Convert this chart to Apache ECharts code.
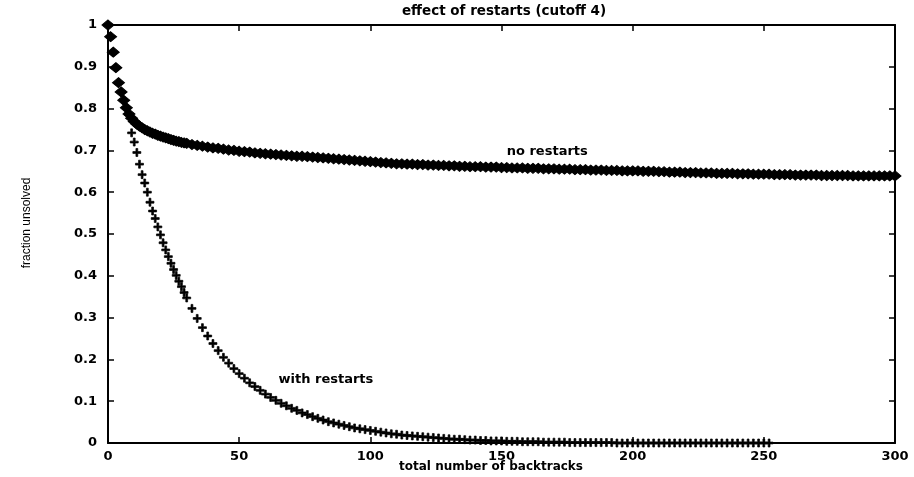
<!DOCTYPE html>
<html><head><meta charset="utf-8">
<script src="https://cdn.jsdelivr.net/npm/echarts@6/dist/echarts.min.js"></script>
<style>html,body{margin:0;padding:0;background:#fff}#c{width:914px;height:477px}</style>
</head><body><div id="c"></div>
<script>
const chartTitle = 'effect of restarts (cutoff 4)';
const xAxisName = 'total number of backtracks';
const yAxisName = 'fraction unsolved';
const xTicks = [0, 50, 100, 150, 200, 250, 300];
const yTicks = [0, 0.1, 0.2, 0.3, 0.4, 0.5, 0.6, 0.7, 0.8, 0.9, 1];

const noRestarts = [
[0,1.000],[1,0.972],[2,0.935],[3,0.898],[4,0.862],[5,0.840],[6,0.820],[7,0.802],[8,0.787],[9,0.777],
[10,0.769],[11,0.763],[12,0.758],[13,0.754],[14,0.750],[15,0.747],[16,0.744],[17,0.741],[18,0.739],[19,0.736],
[20,0.734],[21,0.732],[22,0.730],[23,0.728],[24,0.726],[25,0.724],[26,0.722],[27,0.721],[28,0.719],[29,0.718],
[30,0.717],[32,0.714],[34,0.712],[36,0.710],[38,0.708],[40,0.706],[42,0.705],[44,0.703],[46,0.701],[48,0.700],
[50,0.698],[52,0.697],[54,0.696],[56,0.694],[58,0.693],[60,0.692],[62,0.691],[64,0.690],[66,0.689],[68,0.688],
[70,0.687],[72,0.686],[74,0.686],[76,0.685],[78,0.684],[80,0.683],[82,0.682],[84,0.681],[86,0.680],[88,0.679],
[90,0.678],[92,0.677],[94,0.676],[96,0.675],[98,0.674],[100,0.673],[102,0.672],[104,0.671],[106,0.670],[108,0.669],
[110,0.668],[112,0.668],[114,0.667],[116,0.667],[118,0.666],[120,0.666],[122,0.665],[124,0.665],[126,0.664],[128,0.664],
[130,0.663],[132,0.663],[134,0.662],[136,0.662],[138,0.661],[140,0.661],[142,0.661],[144,0.660],[146,0.660],[148,0.660],
[150,0.659],[152,0.659],[154,0.658],[156,0.658],[158,0.658],[160,0.657],[162,0.657],[164,0.657],[166,0.656],[168,0.656],
[170,0.656],[172,0.655],[174,0.655],[176,0.655],[178,0.654],[180,0.654],[182,0.654],[184,0.653],[186,0.653],[188,0.653],
[190,0.652],[192,0.652],[194,0.652],[196,0.651],[198,0.651],[200,0.651],[202,0.651],[204,0.650],[206,0.650],[208,0.650],
[210,0.649],[212,0.649],[214,0.648],[216,0.648],[218,0.648],[220,0.647],[222,0.647],[224,0.647],[226,0.646],[228,0.646],
[230,0.646],[232,0.645],[234,0.645],[236,0.645],[238,0.645],[240,0.644],[242,0.644],[244,0.644],[246,0.643],[248,0.643],
[250,0.643],[252,0.643],[254,0.642],[256,0.642],[258,0.642],[260,0.642],[262,0.641],[264,0.641],[266,0.641],[268,0.641],
[270,0.641],[272,0.640],[274,0.640],[276,0.640],[278,0.640],[280,0.640],[282,0.640],[284,0.639],[286,0.639],[288,0.639],
[290,0.639],[292,0.639],[294,0.639],[296,0.639],[298,0.639],[300,0.639]
];

const withRestarts = [
[0,1.000],[1,0.972],[2,0.935],[3,0.898],[4,0.862],[5,0.840],[6,0.820],[7,0.802],[8,0.785],[9,0.742],
[10,0.720],[11,0.695],[12,0.667],[13,0.642],[14,0.622],[15,0.600],[16,0.576],[17,0.555],[18,0.537],[19,0.517],
[20,0.498],[21,0.479],[22,0.462],[23,0.446],[24,0.430],[25,0.415],[26,0.401],[27,0.387],[28,0.374],[29,0.360],
[30,0.347],[32,0.322],[34,0.298],[36,0.276],[38,0.256],[40,0.238],[42,0.221],[44,0.205],[46,0.191],[48,0.178],
[50,0.166],[52,0.155],[54,0.144],[56,0.135],[58,0.126],[60,0.117],[62,0.109],[64,0.102],[66,0.095],[68,0.089],
[70,0.083],[72,0.078],[74,0.072],[76,0.068],[78,0.063],[80,0.059],[82,0.055],[84,0.051],[86,0.048],[88,0.045],
[90,0.042],[92,0.039],[94,0.036],[96,0.034],[98,0.032],[100,0.030],[102,0.028],[104,0.026],[106,0.024],[108,0.022],
[110,0.021],[112,0.019],[114,0.018],[116,0.017],[118,0.016],[120,0.015],[122,0.014],[124,0.013],[126,0.012],[128,0.011],
[130,0.010],[132,0.009],[134,0.009],[136,0.008],[138,0.007],[140,0.007],[142,0.006],[144,0.006],[146,0.005],[148,0.005],
[150,0.005],[152,0.004],[154,0.004],[156,0.004],[158,0.003],[160,0.003],[162,0.003],[164,0.003],[166,0.002],[168,0.002],
[170,0.002],[172,0.002],[174,0.002],[176,0.001],[178,0.001],[180,0.001],[182,0.001],[184,0.001],[186,0.001],[188,0.001],
[190,0.001],[192,0.001],[194,0.000],[196,0.000],[198,0.000],[200,0.000],[202,0.000],[204,0.000],[206,0.000],[208,0.000],
[210,0.000],[212,0.000],[214,0.000],[216,0.000],[218,0.000],[220,0.000],[222,0.000],[224,0.000],[226,0.000],[228,0.000],
[230,0.000],[232,0.000],[234,0.000],[236,0.000],[238,0.000],[240,0.000],[242,0.000],[244,0.000],[246,0.000],[248,0.000],
[250,0.000],[252,0.000]
];

const annotations = [
  { text: 'no restarts', x: 152, y: 0.696 },
  { text: 'with restarts', x: 65, y: 0.152 }
];

const BOLD = '"DejaVu Sans", "Liberation Sans", sans-serif';
const chart = echarts.init(document.getElementById('c'), null, { renderer: 'canvas' });

function axisX(pos, showLabel) {
  return {
    type: 'value', position: pos, min: xTicks[0], max: xTicks[xTicks.length - 1],
    interval: xTicks[1] - xTicks[0],
    axisLine: { show: true, onZero: false, lineStyle: { color: '#000', width: 2 } },
    axisTick: { show: true, inside: true, length: 6, lineStyle: { color: '#000', width: 1.5 } },
    axisLabel: { show: showLabel, color: '#000', fontFamily: BOLD, fontWeight: 'bold', fontSize: 13, margin: 7 },
    splitLine: { show: false }
  };
}
function axisY(pos, showLabel) {
  return {
    type: 'value', position: pos, min: yTicks[0], max: yTicks[yTicks.length - 1],
    interval: 0.1,
    axisLine: { show: true, onZero: false, lineStyle: { color: '#000', width: 2 } },
    axisTick: { show: true, inside: true, length: 6, lineStyle: { color: '#000', width: 1.5 } },
    axisLabel: { show: showLabel, color: '#000', fontFamily: BOLD, fontWeight: 'bold', fontSize: 13, margin: 11,
      formatter: v => String(Math.round(v * 10) / 10) },
    splitLine: { show: false }
  };
}

const plusPath = 'path://M0,2.7H2.7V0H4.3V2.7H7V4.3H4.3V7H2.7V4.3H0Z';

chart.setOption({
  animation: false,
  backgroundColor: '#fff',
  grid: { left: 108, right: 19, top: 25, bottom: 34, containLabel: false },
  xAxis: [axisX('bottom', true), axisX('top', false)],
  yAxis: [axisY('left', true), axisY('right', false)],
  series: [
    {
      name: 'no restarts', type: 'scatter', data: noRestarts,
      symbol: 'diamond', symbolSize: [12, 10],
      itemStyle: { color: '#000', borderColor: '#000', borderWidth: 1, opacity: 1 },
      z: 2
    },
    {
      name: 'with restarts', type: 'scatter', data: withRestarts,
      symbol: plusPath, symbolSize: 8,
      itemStyle: { color: '#000', borderColor: '#000', borderWidth: 0.7, opacity: 1 },
      z: 3
    }
  ]
});

const annoGraphics = annotations.map(a => {
  const p = chart.convertToPixel({ xAxisIndex: 0, yAxisIndex: 0 }, [a.x, a.y]);
  return { type: 'text', x: p[0], y: p[1], z: 10,
    style: { text: a.text, fill: '#000', align: 'left', verticalAlign: 'middle',
      font: 'bold 13px "DejaVu Sans", sans-serif' } };
});

chart.setOption({
  graphic: [
    { type: 'text', x: 504, y: 11, style: { text: chartTitle, fill: '#000', align: 'center', verticalAlign: 'middle',
      font: 'bold 13.5px "DejaVu Sans", sans-serif' } },
    { type: 'text', x: 491, y: 467, style: { text: xAxisName, fill: '#000', align: 'center', verticalAlign: 'middle',
      font: 'bold 12px "DejaVu Sans", sans-serif' } },
    { type: 'text', x: 27, y: 223, rotation: Math.PI / 2, style: { text: yAxisName, fill: '#000', align: 'center', verticalAlign: 'middle',
      font: '12px "Liberation Sans", sans-serif' } }
  ].concat(annoGraphics)
});
</script>
</body></html>
